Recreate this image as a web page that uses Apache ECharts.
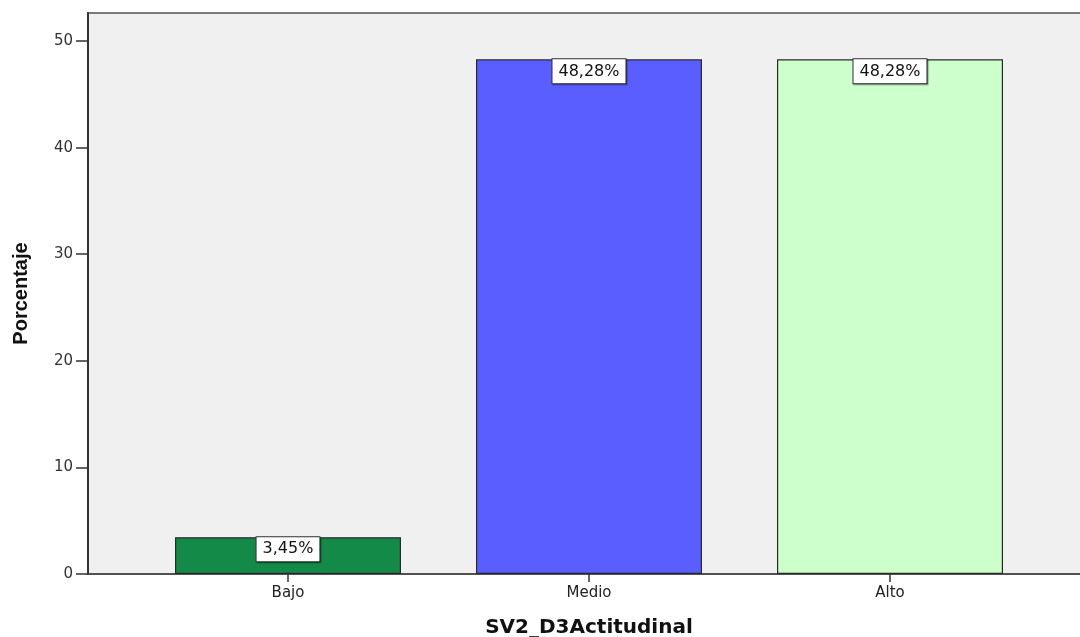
<!DOCTYPE html>
<html>
<head>
<meta charset="utf-8">
<script src="https://cdn.jsdelivr.net/npm/echarts@6/dist/echarts.min.js"></script>
<style>
html,body{margin:0;padding:0;background:#fff;}
#chart{width:1080px;height:637px;}
</style>
</head>
<body>
<div id="chart"></div>
<script>
const categories = ['Bajo', 'Medio', 'Alto'];
const values = [3.45, 48.28, 48.28];
const barColors = ['#138a47', '#5a5eff', '#ccffcc'];
const yTicks = [0, 10, 20, 30, 40, 50];
const xTitle = 'SV2_D3Actitudinal';
const yTitle = 'Porcentaje';

const YMAX = 52.63;
const chart = echarts.init(document.getElementById('chart'), null, {renderer: 'canvas'});

const fmt = v => v.toFixed(2).replace('.', ',') + '%';

chart.setOption({
  animation: false,
  backgroundColor: '#ffffff',
  textStyle: {fontFamily: 'DejaVu Sans'},
  grid: [
    {left: 88, right: -6, top: 13, bottom: 63, outerBoundsMode: 'none', containLabel: false,
     show: true, backgroundColor: '#f0f0f0', borderColor: '#7a7a7a', borderWidth: 2},
    {left: 137.5, right: 39.5, top: 13, bottom: 63, outerBoundsMode: 'none', containLabel: false}
  ],
  xAxis: [
    {
      type: 'value', gridIndex: 0, min: 0, max: 1,
      axisLine: {show: true, onZero: false, lineStyle: {color: '#444', width: 1.5}},
      axisTick: {show: false}, axisLabel: {show: false}, splitLine: {show: false}
    },
    {
      type: 'category', gridIndex: 1, data: categories,
      axisLine: {show: false},
      axisTick: {show: true, alignWithLabel: true, length: 8, lineStyle: {color: '#333', width: 1.5}},
      axisLabel: {color: '#222', fontSize: 15, margin: 12, fontFamily: 'DejaVu Sans'},
      name: xTitle, nameLocation: 'middle', nameGap: 44,
      nameTextStyle: {fontSize: 20, fontWeight: 'bold', color: '#111', fontFamily: 'DejaVu Sans'}
    }
  ],
  yAxis: [
    {
      type: 'value', gridIndex: 0, min: 0, max: YMAX, interval: 10,
      axisLine: {show: true, lineStyle: {color: '#333', width: 2}},
      axisTick: {show: true, length: 12, customValues: yTicks, lineStyle: {color: '#333', width: 1.5}},
      axisLabel: {color: '#333', fontSize: 15, margin: 15, fontFamily: 'DejaVu Sans', customValues: yTicks},
      splitLine: {show: false},
      name: yTitle, nameLocation: 'middle', nameGap: 57, nameRotate: 90,
      nameTextStyle: {fontSize: 20, fontWeight: 'bold', color: '#111', fontFamily: "'Liberation Sans', Arial, sans-serif"}
    },
    {
      type: 'value', gridIndex: 1, min: 0, max: YMAX, show: false
    }
  ],
  series: [{
    type: 'bar',
    xAxisIndex: 1, yAxisIndex: 1,
    barWidth: 226,
    data: values.map((v, i) => ({value: v, itemStyle: {color: barColors[i]}})),
    itemStyle: {borderColor: '#2a2a2a', borderWidth: 1.2},
    label: {
      show: true, position: 'insideTop', distance: 0,
      formatter: p => fmt(p.value),
      fontSize: 16, color: '#111', fontFamily: 'DejaVu Sans',
      backgroundColor: '#ffffff', borderColor: '#333', borderWidth: 1,
      padding: [3, 6, 3, 6], lineHeight: 18,
      shadowColor: 'rgba(0,0,0,0.35)', shadowOffsetX: 1, shadowOffsetY: 1, shadowBlur: 1
    }
  }]
});
</script>
</body>
</html>
